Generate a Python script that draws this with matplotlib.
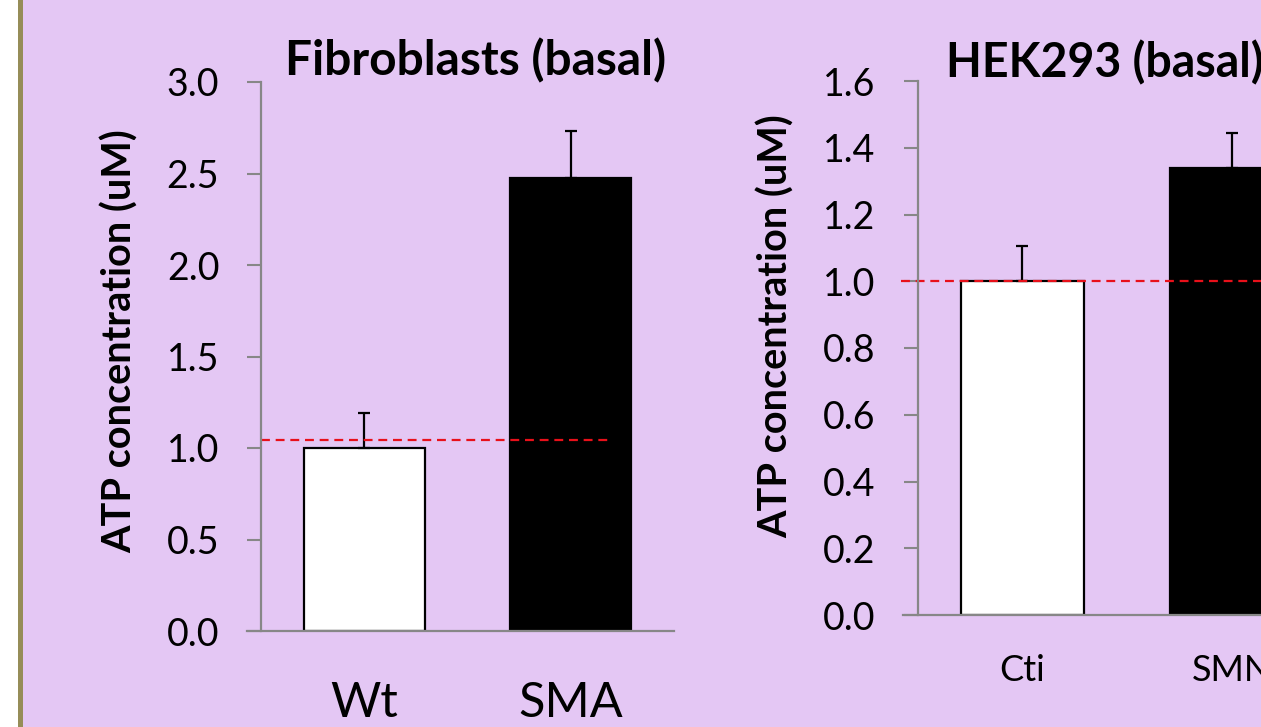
import matplotlib
matplotlib.use("Agg")
import matplotlib.pyplot as plt
from matplotlib.patches import Rectangle

# ---- data ----
fib_categories = ["Wt", "SMA"]
fib_values = [1.0, 2.475]
fib_err = [0.19, 0.255]
fib_ref = 1.045

hek_categories = ["Cti", "SMN"]
hek_values = [1.0, 1.338]
hek_err = [0.106, 0.105]
hek_ref = 1.0

bar_colors = ["white", "black"]
fib_yticks = [0.0, 0.5, 1.0, 1.5, 2.0, 2.5, 3.0]
hek_yticks = [0.0, 0.2, 0.4, 0.6, 0.8, 1.0, 1.2, 1.4, 1.6]

BG = "#E4C7F4"
SPINE = "#878787"
FONT = "Lato"

W, H = 1261, 727
fig = plt.figure(figsize=(W / 100, H / 100), dpi=100)
fig.patch.set_facecolor("white")
# lavender panel and olive border
fig.patches.append(Rectangle((23 / W, 0), 1, 1, transform=fig.transFigure,
                             facecolor=BG, edgecolor="none", zorder=-10))
fig.patches.append(Rectangle((18 / W, 0), 5 / W, 1, transform=fig.transFigure,
                             facecolor="#968D58", edgecolor="none", zorder=-9))


def make_panel(rect, cats, vals, errs, ref, ref_x, ylim, yticks, title,
               title_xy, title_size, xlab_size, xlab_pad, ylabel_xy):
    ax = fig.add_axes(rect)
    ax.set_facecolor("none")
    x = list(range(len(cats)))
    ax.bar(x, vals, width=0.587, color=bar_colors, edgecolor="black",
           linewidth=1.6, zorder=2)
    ax.errorbar(x, vals, yerr=[[0] * len(errs), errs], fmt="none",
                ecolor="black", elinewidth=1.6, capsize=4.3, capthick=1.6,
                zorder=3)
    ax.plot(ref_x, [ref, ref], color="#E8101A", linewidth=1.6,
            dashes=(4, 2.6), zorder=4, clip_on=False)
    ax.set_xlim(-0.5, len(cats) - 0.5)
    ax.set_ylim(*ylim)
    ax.set_yticks(yticks, [f"{t:.1f}" for t in yticks])
    ax.set_xticks(x, cats)
    for s in ["top", "right"]:
        ax.spines[s].set_visible(False)
    for s in ["left", "bottom"]:
        ax.spines[s].set_color(SPINE)
        ax.spines[s].set_linewidth(1.6)
        ax.spines[s].set_zorder(5)
    ax.spines["bottom"].set_bounds(-0.5 - 14 / 207, len(cats) - 0.5)
    ax.tick_params(axis="y", direction="out", length=10, width=1.5,
                   color=SPINE, pad=20, labelsize=27, labelcolor="black")
    ax.tick_params(axis="x", length=0, pad=xlab_pad, labelsize=xlab_size,
                   labelcolor="black")
    for lab in ax.get_yticklabels() + ax.get_xticklabels():
        lab.set_fontfamily(FONT)
    fig.text(title_xy[0], title_xy[1], title, fontsize=title_size,
             fontweight="bold", family=FONT, ha=title_xy[2], va="baseline")
    fig.text(ylabel_xy[0], ylabel_xy[1], "ATP concentration (uM)", rotation=90,
             fontsize=28.5, fontweight="bold", family=FONT, ha="center",
             va="center")
    return ax


make_panel([261 / W, 1 - 631 / H, 413 / W, 549 / H], fib_categories, fib_values,
           fib_err, fib_ref, [-0.5, 1.205], (0, 3.0), fib_yticks,
           "Fibroblasts (basal)", (476 / W, 1 - 75 / H, "center"), 34.5, 35, 36,
           (120 / W, 1 - 341 / H))

make_panel([917.5 / W, 1 - 615 / H, 419 / W, 534 / H], hek_categories, hek_values,
           hek_err, hek_ref, [-0.58, 1.6], (0, 1.6), hek_yticks,
           "HEK293 (basal)", (946 / W, 1 - 77 / H, "left"), 33.5, 26, 28,
           (776 / W, 1 - 326 / H))

fig.savefig("out.png", dpi=100, facecolor=fig.get_facecolor())
